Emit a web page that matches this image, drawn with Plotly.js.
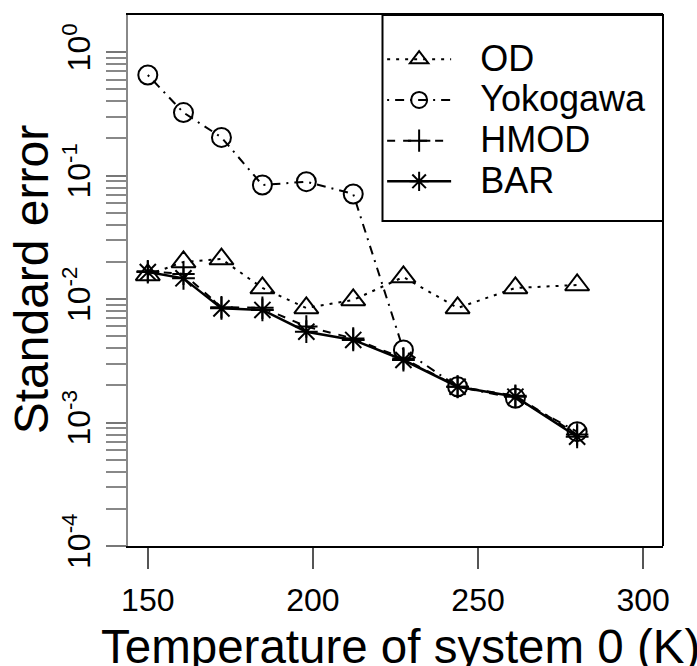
<!DOCTYPE html>
<html>
<head>
<meta charset="utf-8">
<script src="https://cdn.plot.ly/plotly-3.0.1.min.js"></script>
<style>html,body{margin:0;padding:0;background:#fff;}#chart{width:697px;height:666px;}</style>
</head>
<body>
<div id="chart"></div>
<script>
// Data
var temperatures = [150, 160.8, 172.3, 184.7, 198.0, 212.2, 227.4, 243.8, 261.3, 280.0];
var odValues = [0.0157, 0.0200, 0.0211, 0.0123, 0.00847, 0.00984, 0.0151, 0.00847, 0.0123, 0.0130];
var yokogawaValues = [0.653, 0.324, 0.204, 0.0839, 0.0893, 0.0710, 0.00387, 0.00195, 0.00157, 0.000843];
var hmodValues = [0.0168, 0.0160, 0.0086, 0.0085, 0.0060, 0.0048, 0.0033, 0.00195, 0.00165, 0.00080];
var barValues = [0.01656, 0.01473, 0.00841, 0.00817, 0.00544, 0.00467, 0.00321, 0.00195, 0.00162, 0.000767];
var seriesNames = ["OD", "Yokogawa", "HMOD", "BAR"];
var xTitle = "Temperature of system 0 (K)";
var yTitle = "Standard error";

var xTickVals = [150, 200, 250, 300];
var xTickText = ["150", "200", "250", "300"];
var yTickVals = [0.0001, 0.001, 0.01, 0.1, 1];
var yTickText = ["10<sup>-4</sup>", "10<sup>-3</sup>", "10<sup>-2</sup>", "10<sup>-1</sup>", "10<sup>0</sup>"];
var yMinorVals = [0.0002, 0.0003, 0.0004, 0.0005, 0.0006, 0.0007, 0.0008, 0.0009,
                  0.002, 0.003, 0.004, 0.005, 0.006, 0.007, 0.008, 0.009,
                  0.02, 0.03, 0.04, 0.05, 0.06, 0.07, 0.08, 0.09,
                  0.2, 0.3, 0.4, 0.5, 0.6, 0.7, 0.8, 0.9];

var FONT = "Liberation Sans, Arial, Helvetica, sans-serif";

function legendLabel(name) {
  return "\u00A0\u00A0\u00A0<span style=\"font-size:36px\">" + name + "</span>";
}

function makeTrace(name, ys, symbol, size, dash, lw) {
  return {
    x: temperatures, y: ys, name: legendLabel(name), type: "scatter", mode: "lines+markers",
    line: {color: "black", width: lw, dash: dash},
    marker: {symbol: symbol, size: size, color: "black", line: {color: "black", width: 2}}
  };
}

var traces = [
  makeTrace(seriesNames[0], odValues, "triangle-up-open", 21, "3px,6px", 2),
  makeTrace(seriesNames[1], yokogawaValues, "circle-open", 19, "2px,6px,9px,6px", 2),
  makeTrace(seriesNames[2], hmodValues, "cross-thin-open", 16, "8px,8px", 2),
  makeTrace(seriesNames[3], barValues, "asterisk-open", 19, "solid", 2.5)
];

var layout = {
  width: 697, height: 666,
  margin: {l: 128, r: 34, t: 15, b: 120},
  paper_bgcolor: "white", plot_bgcolor: "white",
  font: {family: FONT, color: "black"},
  showlegend: true,
  legend: {
    x: 0.475, xanchor: "left", y: 0.9644, yanchor: "top",
    bgcolor: "rgba(0,0,0,0)", borderwidth: 0,
    font: {family: FONT, size: 29, color: "black"},
    itemwidth: 64, tracegroupgap: 0
  },
  xaxis: {
    range: [144, 306], tickvals: xTickVals, ticktext: xTickText,
    ticks: "outside", ticklen: 21, tickwidth: 2, tickcolor: "#555",
    showline: true, linecolor: "black", linewidth: 2, mirror: true,
    showgrid: false, zeroline: false,
    tickfont: {family: FONT, size: 32, color: "black"},
    ticklabelstandoff: 4
  },
  yaxis: {
    type: "log", range: [-4, 0.301],
    tickvals: yTickVals, ticktext: yTickText, tickangle: -90,
    ticks: "outside", ticklen: 20, tickwidth: 2, tickcolor: "#777",
    minor: {tickvals: yMinorVals, ticks: "outside", ticklen: 20, tickwidth: 2, tickcolor: "#888", showgrid: false},
    showline: true, linecolor: "#888", linewidth: 2, mirror: false,
    showgrid: false, zeroline: false,
    tickfont: {family: FONT, size: 32, color: "black"},
    ticklabelstandoff: 3
  },
  annotations: [
    {text: xTitle, xref: "paper", yref: "paper", x: 0.51, y: -0.1893, xanchor: "center", yanchor: "middle",
     showarrow: false, font: {family: FONT, size: 47.5, color: "black"}},
    {text: yTitle, xref: "paper", yref: "paper", x: -0.1787, y: 0.503, xanchor: "center", yanchor: "middle",
     textangle: -90, showarrow: false, font: {family: FONT, size: 48, color: "black"}}
  ],
  shapes: [
    {type: "line", xref: "paper", yref: "paper", x0: 1, x1: 1, y0: 0, y1: 1, line: {color: "black", width: 2}},
    {type: "rect", xref: "paper", yref: "paper", x0: 0.4757, x1: 1, y0: 0.612, y1: 1, line: {color: "black", width: 2}}
  ]
};

Plotly.newPlot("chart", traces, layout, {displayModeBar: false, staticPlot: true});
</script>
</body>
</html>
